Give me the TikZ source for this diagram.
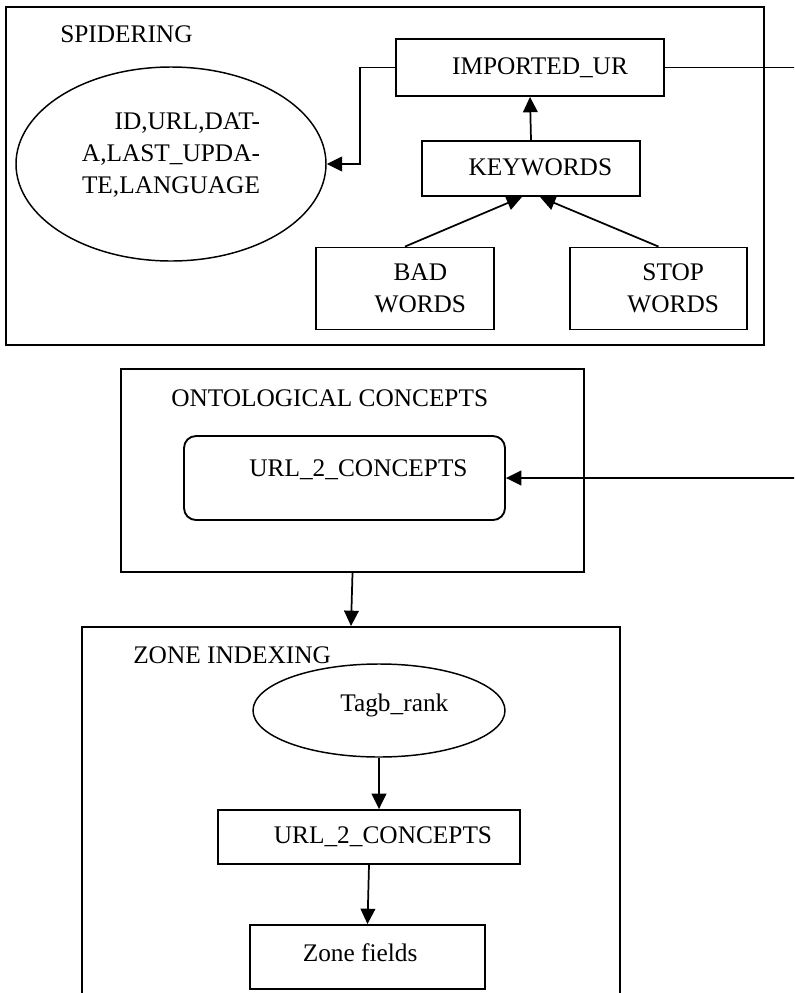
\documentclass[tikz,border=0pt]{standalone}
\usepackage{fontspec}
\setmainfont{Liberation Serif}
\usetikzlibrary{calc,arrows.meta,shapes.geometric}

\begin{document}
\begin{tikzpicture}[x=0.75pt, y=-0.75pt,
        every node/.style={font=\fontsize{19}{24}\selectfont},
        frame/.style={draw, line width=1.5pt, inner sep=0pt},
        title/.style={anchor=west, inner sep=0pt},
        box/.style={draw, line width=1.4pt, align=center, inner sep=0pt,
                    text height=13pt, text depth=3pt},
        oval/.style={box, ellipse, line width=1.1pt},
        arrow/.style={-{Triangle[length=11.5pt, width=11pt]}, line width=1.3pt},
        link/.style={arrow, line width=1.1pt}
      ]
        \useasboundingbox (0,0) rectangle (794,993);
        \fill[white] (0,0) rectangle (794,993);
        \clip (0,0) rectangle (794,993);

        % spidering
        \node[frame, minimum width=568.5pt, minimum height=253.5pt] (spid) at (385,176) {};
        \node[title] (spidt) at (60,34) {SPIDERING};
        \node[oval, align=right, text height=, text depth=17pt,
              minimum width=232.5pt, minimum height=145.5pt] (db) at (171,164)
              {ID,URL,DAT-\\A,LAST\_UPDA-\\TE,LANGUAGE};
        \node[box, minimum width=201pt, minimum height=42.75pt] (imp) at (530,67.5) {\hspace*{15pt}IMPORTED\_UR};
        \node[box, minimum width=163.5pt, minimum height=41.25pt] (kw) at (531,168.5) {\hspace*{14pt}KEYWORDS};
        \node[box, text height=, text depth=, minimum width=133.5pt, minimum height=61.5pt] (bad) at (405,288.5)
              {\hspace*{23pt}BAD\\\hspace*{23pt}WORDS};
        \node[box, text height=, text depth=, minimum width=132.75pt, minimum height=61.5pt] (stopw) at (658.5,288.5)
              {\hspace*{22pt}STOP\\\hspace*{22pt}WORDS};

        % ontological concepts
        \node[frame, minimum width=347.25pt, minimum height=152.25pt] (onto) at (352.5,470.5) {};
        \node[title] (ontot) at (171,398) {ONTOLOGICAL CONCEPTS};
        \node[box, rounded corners=9pt, text depth=16pt,
              minimum width=240.75pt, minimum height=63pt] (oc) at (344.5,478) {\hspace*{21pt}URL\_2\_CONCEPTS};

        % zone indexing
        \node[frame, minimum width=403.5pt, minimum height=289.5pt] (zone) at (351,820) {};
        \node[title] (zonet) at (133,655) {ZONE INDEXING};
        \node[oval, text depth=11.5pt, minimum width=189pt, minimum height=69.75pt] (tagb) at (379,710.5) {\hspace*{23pt}Tagb\_rank};
        \node[box, minimum width=226.5pt, minimum height=40.5pt] (uz) at (369,837) {\hspace*{21pt}URL\_2\_CONCEPTS};
        \node[box, text depth=6pt, minimum width=176.25pt, minimum height=48pt] (zf) at (367.5,957) {Zone fields\hspace*{11pt}};

        \coordinate (offpage) at (800,67.5);

        \draw[link] (imp.west) -- ++(-35,0) |- (db.east);
        \draw[arrow] (kw.north) -- (imp.south);
        \draw[arrow] (bad.north) -- ($(kw.south)+(-9,0)$);
        \draw[arrow] (stopw.north) -- ($(kw.south)+(9,0)$);
        \draw[link] (imp.east) -- (offpage) |- (oc.east);
        \draw[arrow] (onto.south) -- (zone.north);
        \draw[arrow] (tagb.south) -- (tagb.south |- uz.north);
        \draw[arrow] (uz.south) -- (zf.north);
\end{tikzpicture}
\end{document}
